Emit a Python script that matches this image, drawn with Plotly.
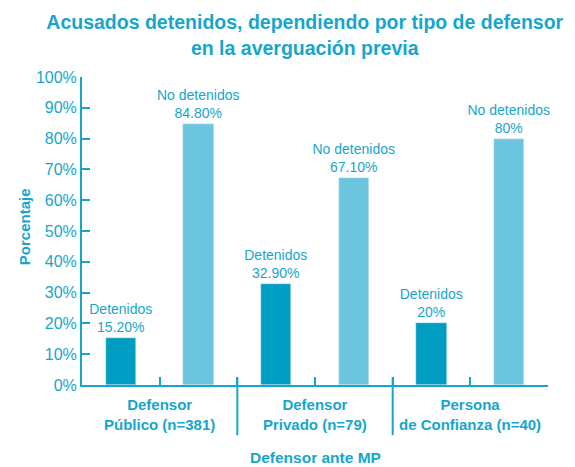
import plotly.graph_objects as go

# data
grupos = ["Defensor<br>Público (n=381)", "Defensor<br>Privado (n=79)", "Persona<br>de Confianza (n=40)"]
detenidos = [15.2, 32.9, 20]
no_detenidos = [84.8, 67.1, 80]
etiq_detenidos = ["Detenidos<br>15.20%", "Detenidos<br>32.90%", "Detenidos<br>20%"]
etiq_no_detenidos = ["No detenidos<br>84.80%", "No detenidos<br>67.10%", "No detenidos<br>80%"]
y_ticks = list(range(0, 101, 10))
y_tick_text = [f"{v}%" for v in y_ticks]

TEAL = "#17A6CB"
DARK = "#009DC3"
LIGHT = "#6CC5DE"
FONT = "Liberation Sans, Arial, sans-serif"

# each group takes two slots on a linear axis: detained, then not detained
pos_det = [2 * i for i in range(len(grupos))]
pos_no = [2 * i + 1 for i in range(len(grupos))]

fig = go.Figure()
fig.add_trace(go.Bar(x=pos_det, y=detenidos, width=0.39, marker_color=DARK,
                     text=etiq_detenidos, textposition="outside", constraintext="none",
                     textfont=dict(size=14, color=TEAL, family=FONT),
                     cliponaxis=False, hoverinfo="skip"))
fig.add_trace(go.Bar(x=pos_no, y=no_detenidos, width=0.39, marker_color=LIGHT,
                     text=etiq_no_detenidos, textposition="outside", constraintext="none",
                     textfont=dict(size=14, color=TEAL, family=FONT),
                     cliponaxis=False, hoverinfo="skip"))

n_slots = 2 * len(grupos)
fig.update_xaxes(range=[-0.5, n_slots - 0.5], tickvals=[k - 0.5 for k in range(n_slots + 1)],
                 ticks="inside", ticklen=8, tickwidth=2, tickcolor=TEAL,
                 showticklabels=False, showline=True, linecolor=TEAL, linewidth=2,
                 showgrid=False, zeroline=False)
fig.update_yaxes(range=[0, 100], tickvals=y_ticks, ticktext=y_tick_text,
                 ticks="inside", ticklen=8, tickwidth=2, tickcolor=TEAL,
                 tickfont=dict(size=16, color=TEAL, family=FONT),
                 showline=True, linecolor=TEAL, linewidth=2,
                 showgrid=False, zeroline=False)

# y axis title placed by hand so it sits close to the tick labels
fig.add_annotation(x=-0.122, xref="paper", y=0.513, yref="paper", xanchor="center", yanchor="middle",
                   text="<b>Porcentaje</b>", textangle=-90, showarrow=False,
                   font=dict(size=15, color=TEAL, family=FONT))

# separators between groups, going below the axis
for k in range(1, len(grupos)):
    x_sep = 2 * k - 0.5
    fig.add_shape(type="line", xref="x", yref="paper", x0=x_sep, x1=x_sep, y0=0.025, y1=-0.163,
                  line=dict(color=TEAL, width=2))

for i, g in enumerate(grupos):
    fig.add_annotation(x=2 * i + 0.5, xref="x", y=-0.03, yref="paper", yanchor="top",
                       text=f"<b>{g}</b>", showarrow=False,
                       font=dict(size=15, color=TEAL, family=FONT))

fig.add_annotation(x=0.5, xref="paper", y=-0.236, yref="paper", yanchor="middle",
                   text="<b>Defensor ante MP</b>", showarrow=False,
                   font=dict(size=15.5, color=TEAL, family=FONT))

fig.update_layout(
    width=575, height=467,
    margin=dict(l=82, r=27, t=77, b=82),
    paper_bgcolor="white", plot_bgcolor="white",
    showlegend=False, bargap=0,
    title=dict(text="<b>Acusados detenidos, dependiendo por tipo de defensor<br>en la averguación previa</b>",
               x=0.53, xanchor="center", y=0.937, yanchor="top",
               font=dict(size=19.5, color=TEAL, family=FONT)),
)

fig.write_html("out.html", config={"displayModeBar": False},
               post_script="document.body.style.margin='0';")
